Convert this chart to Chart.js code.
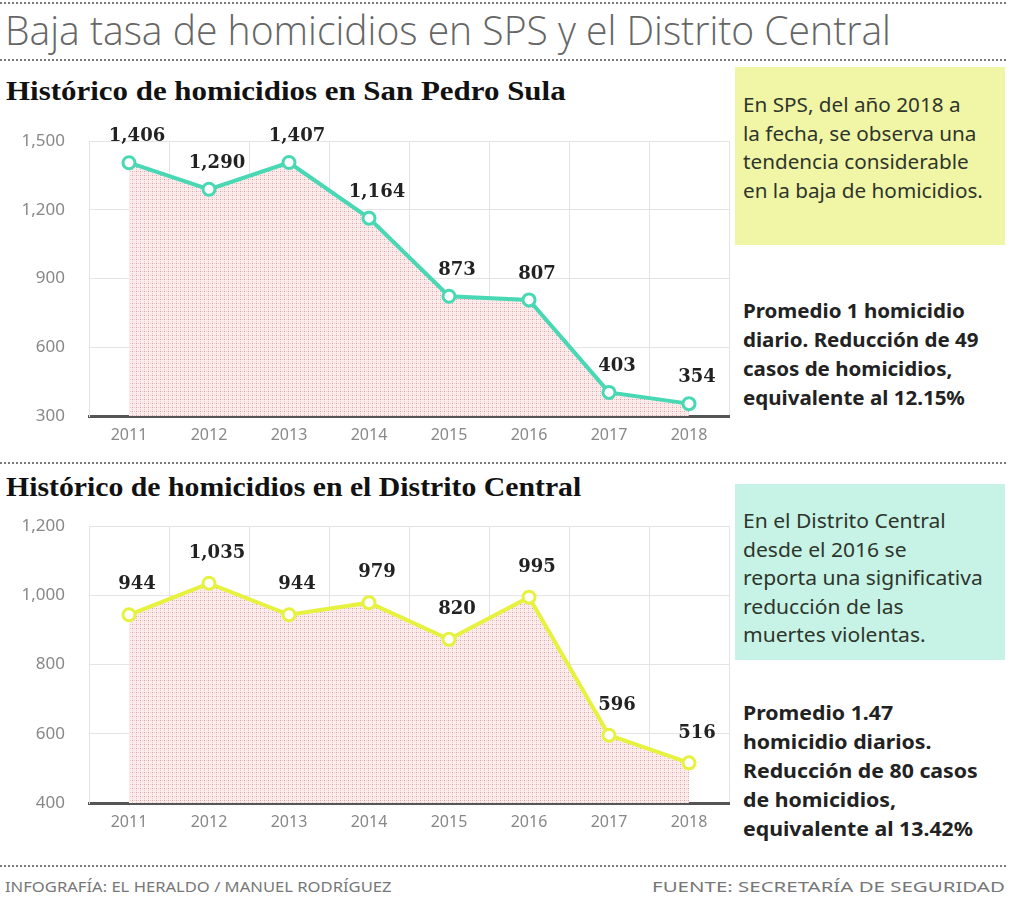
<!DOCTYPE html>
<html>
<head>
<meta charset="utf-8">
<script src="https://cdn.jsdelivr.net/npm/chart.js@4.4.1/dist/chart.umd.min.js"></script>
<style>
  body { margin: 0; background: #fff; width: 1013px; height: 900px; position: relative; overflow: hidden; }
  .abs { position: absolute; }
  .dots { position: absolute; left: 0; width: 1008px; height: 2px;
    background: repeating-linear-gradient(90deg, #7a7a7a 0 2px, transparent 2px 4px); }
  .fit { white-space: nowrap; display: inline-block; }
  #title { left: 5px; top: 6px; font: 300 40px "Open Sans", sans-serif; color: #666; line-height: 48px; }
  .heading { left: 6px; font: bold 28px "Liberation Serif", serif; color: #111; line-height: 34px; }
  .box { position: absolute; left: 735px; width: 270px; }
  .boxtext { position: absolute; left: 8px; font: 20px "Noto Sans", sans-serif; color: #2e352c; line-height: 28.5px; }
  .bold { position: absolute; left: 743px; font: bold 20px "Noto Sans", sans-serif; color: #222; line-height: 29px; }
  .foot { top: 876px; font: 15px "Noto Sans", sans-serif; color: #777; line-height: 20px; }
  .chartbox { position: absolute; left: 0; width: 740px; }
</style>
</head>
<body>
<div class="dots" style="top:2px"></div>
<div id="title" class="abs fit" data-w="886">Baja tasa de homicidios en SPS y el Distrito Central</div>
<div class="dots" style="top:59px"></div>

<div class="abs heading fit" style="top:74px" data-w="560">Histórico de homicidios en San Pedro Sula</div>
<!-- plot top ends up at box top + label half height + tick padding (34.2px) -->
<div class="chartbox" style="top:107px;height:353px"><canvas id="spsChart"></canvas></div>

<div class="box" style="top:67px;height:178px;background:#f1f6a6">
  <div class="boxtext fit" style="top:24px" data-w="240">En SPS, del año 2018 a<br>la fecha, se observa una<br>tendencia considerable<br>en la baja de homicidios.</div>
</div>
<div class="bold fit" style="top:296px" data-w="236">Promedio 1 homicidio<br>diario. Reducción de 49<br>casos de homicidios,<br>equivalente al 12.15%</div>

<div class="dots" style="top:462px"></div>
<div class="abs heading fit" style="top:470px" data-w="575">Histórico de homicidios en el Distrito Central</div>
<div class="chartbox" style="top:492px;height:358px"><canvas id="dcChart"></canvas></div>

<div class="box" style="top:484px;height:176px;background:#c6f3e5">
  <div class="boxtext fit" style="top:23px" data-w="240">En el Distrito Central<br>desde el 2016 se<br>reporta una significativa<br>reducción de las<br>muertes violentas.</div>
</div>
<div class="bold fit" style="top:698px" data-w="235">Promedio 1.47<br>homicidio diarios.<br>Reducción de 80 casos<br>de homicidios,<br>equivalente al 13.42%</div>

<div class="dots" style="top:865px"></div>
<div class="abs foot fit" style="left:5px" data-w="386">INFOGRAFÍA: EL HERALDO / MANUEL RODRÍGUEZ</div>
<div class="abs foot fit" id="fuente" style="right:8px" data-w="353" data-right="1">FUENTE: SECRETARÍA DE SEGURIDAD</div>

<script>
const years = ["2011", "2012", "2013", "2014", "2015", "2016", "2017", "2018"];

// San Pedro Sula: plotted values and printed labels (2015 label differs from its point in the original)
const spsValues = [1406, 1290, 1407, 1164, 823, 807, 403, 354];
const spsLabels = ["1,406", "1,290", "1,407", "1,164", "873", "807", "403", "354"];
const spsTicks = [300, 1500, 300];

// Distrito Central
const dcValues = [944, 1035, 944, 979, 873, 995, 596, 516];
const dcLabels = ["944", "1,035", "944", "979", "820", "995", "596", "516"];
const dcTicks = [400, 1200, 200];

// dotted pink fill like the print
function dotPattern() {
  const c = document.createElement("canvas");
  c.width = 4; c.height = 4;
  const g = c.getContext("2d");
  g.fillStyle = "#fcecec";
  g.fillRect(0, 0, 4, 4);
  g.fillStyle = "#d4a2a7";
  g.fillRect(0, 0, 1, 1);
  g.fillStyle = "#ecc4c8";
  g.fillRect(2, 0, 1, 1);
  g.fillRect(0, 2, 1, 1);
  return g.createPattern(c, "repeat");
}

// draws the bold numbers above the points
const valueLabels = {
  id: "valueLabels",
  afterDatasetsDraw(chart, args, opts) {
    const ctx = chart.ctx;
    const meta = chart.getDatasetMeta(0);
    ctx.save();
    ctx.font = "bold 18px 'DejaVu Serif', serif";
    ctx.fillStyle = "#222";
    ctx.textAlign = "center";
    ctx.textBaseline = "middle";
    meta.data.forEach((pt, i) => {
      ctx.fillText(opts.texts[i], pt.x + opts.dx, pt.y + opts.dy);
    });
    ctx.restore();
  }
};

function makeChart(id, values, texts, ticks, color, xHeight, dy) {
  const ctx = document.getElementById(id);
  return new Chart(ctx, {
    type: "line",
    data: {
      labels: years,
      datasets: [{
        data: values,
        borderColor: color,
        borderWidth: 4,
        backgroundColor: dotPattern(),
        fill: "start",
        tension: 0,
        pointRadius: 6,
        pointBorderWidth: 3,
        pointBackgroundColor: "#fff",
        pointBorderColor: color,
        clip: false
      }]
    },
    options: {
      responsive: true,
      maintainAspectRatio: false,
      animation: false,
      layout: { autoPadding: false, padding: { top: 0, right: 11, left: 0, bottom: 0 } },
      plugins: {
        legend: { display: false },
        tooltip: { enabled: false },
        valueLabels: { texts: texts, dx: 8, dy: dy }
      },
      scales: {
        x: {
          offset: true,
          grid: { offset: true, color: "#e4e4e4", drawTicks: false },
          border: { display: true, color: "#555", width: 3 },
          ticks: { color: "#888", padding: 10, font: { family: "Noto Sans", size: 16 } },
          afterFit: s => { s.height = xHeight; }
        },
        y: {
          min: ticks[0],
          max: ticks[1],
          grid: { color: "#e4e4e4", drawTicks: false },
          border: { color: "#e4e4e4", width: 1 },
          ticks: { stepSize: ticks[2], color: "#888", padding: 24, font: { family: "Noto Sans", size: 17 } },
          afterFit: s => { s.width = 89; }
        }
      }
    },
    plugins: [valueLabels]
  });
}

function fitAll() {
  document.querySelectorAll(".fit").forEach(el => {
    const target = parseFloat(el.dataset.w);
    const w = el.offsetWidth;
    if (w > 0) {
      el.style.transformOrigin = el.dataset.right ? "right top" : "left top";
      el.style.transform = "scaleX(" + (target / w) + ")";
    }
  });
}

makeChart("spsChart", spsValues, spsLabels, spsTicks, "#48d8b4", 44, -26);
makeChart("dcChart", dcValues, dcLabels, dcTicks, "#e6f23e", 47, -30);
fitAll();
if (document.fonts) document.fonts.ready.then(fitAll);
</script>
</body>
</html>
